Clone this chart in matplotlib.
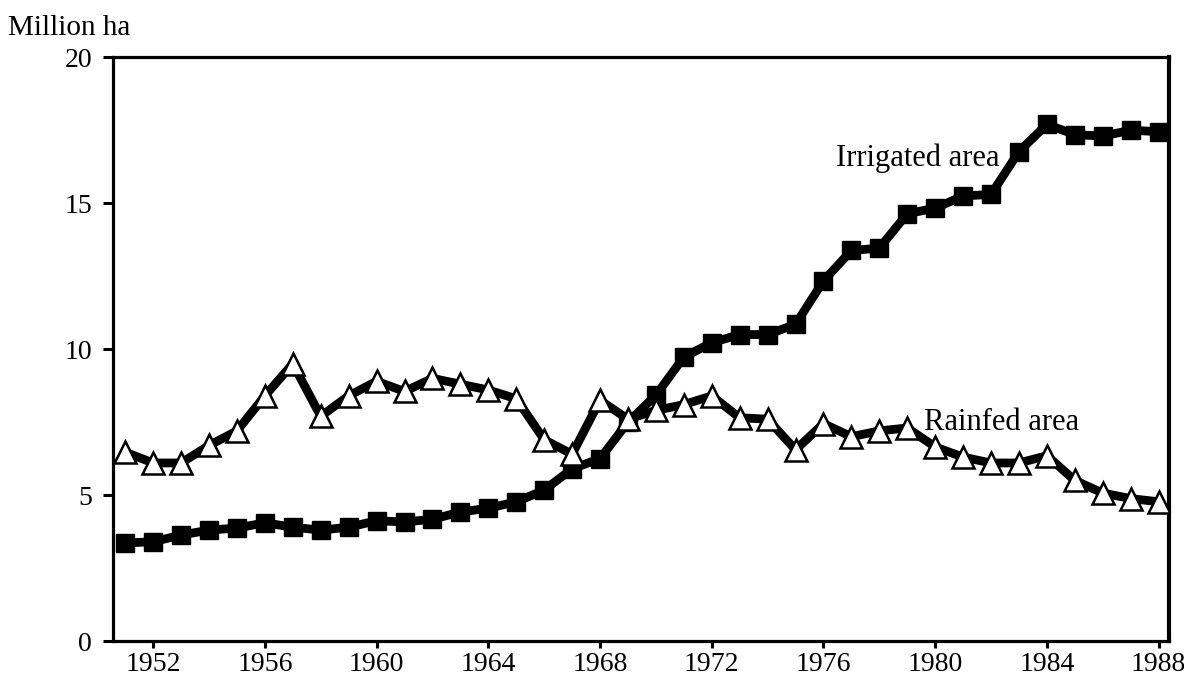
import matplotlib
matplotlib.use("Agg")
import matplotlib.pyplot as plt

years = list(range(1951, 1989))
irrigated = [3.36, 3.4, 3.63, 3.8, 3.87, 4.05, 3.9, 3.8, 3.9, 4.12,
             4.08, 4.17, 4.42, 4.55, 4.77, 5.17, 5.9, 6.25, 7.5, 8.42,
             9.73, 10.22, 10.5, 10.5, 10.85, 12.34, 13.38, 13.46, 14.64, 14.83,
             15.25, 15.3, 16.77, 17.7, 17.35, 17.3, 17.5, 17.45]
rainfed = [6.47, 6.1, 6.1, 6.7, 7.2, 8.4, 9.5, 7.7, 8.4, 8.9,
           8.55, 9.0, 8.8, 8.6, 8.3, 6.9, 6.4, 8.25, 7.6, 7.9,
           8.1, 8.4, 7.65, 7.6, 6.55, 7.45, 7.0, 7.2, 7.3, 6.65,
           6.3, 6.1, 6.1, 6.35, 5.5, 5.07, 4.88, 4.77]
xticks = list(range(1952, 1989, 4))
yticks = [0, 5, 10, 15, 20]

serif = ['Liberation Serif', 'DejaVu Serif']
plt.rcParams['font.family'] = serif

fig = plt.figure(figsize=(11.84, 6.9), dpi=100)
ax = fig.add_axes([0.0954, 0.071, 0.8919, 0.846])

ax.plot(years, irrigated, color='black', lw=6.3, marker='s', ms=13,
        mfc='black', mec='black', zorder=3)
ax.plot(years, rainfed, color='black', lw=6.3, marker='^', ms=16,
        mfc='white', mec='black', mew=1.8, zorder=4)

ax.set_xlim(1950.56, 1988.37)
ax.set_ylim(0, 20)
ax.set_xticks(xticks)
ax.set_yticks(yticks)
ax.tick_params(axis='y', direction='out', length=7, width=2.2, labelsize=20, pad=8)
ax.tick_params(axis='x', direction='out', length=5, width=2.2, labelsize=20, pad=3)
for s in ax.spines.values():
    s.set_linewidth(2.3)
ax.spines['right'].set_linewidth(3)

ax.text(1982.3, 16.55, 'Irrigated area', fontsize=22, ha='right', va='center')
ax.text(1979.6, 7.5, 'Rainfed area', fontsize=22, ha='left', va='center')
fig.text(0.007, 0.96, 'Million ha', fontsize=21, ha='left', va='center')

fig.savefig('out.png', dpi=100)
